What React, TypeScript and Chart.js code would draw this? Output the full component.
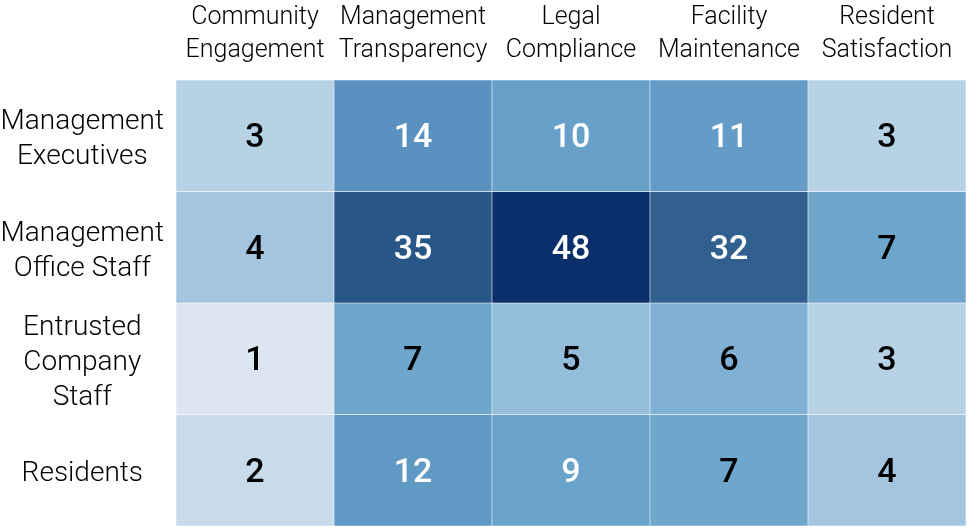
import { useEffect, useRef } from 'react';
import { Chart, registerables } from 'chart.js';

Chart.register(...registerables);

const columnLabels = [
  ['Community', 'Engagement'],
  ['Management', 'Transparency'],
  ['Legal', 'Compliance'],
  ['Facility', 'Maintenance'],
  ['Resident', 'Satisfaction'],
];
const rowLabels = [
  ['Management', 'Executives'],
  ['Management', 'Office Staff'],
  ['Entrusted', 'Company', 'Staff'],
  ['Residents'],
];
const managementExecutives = [3, 14, 10, 11, 3];
const managementOfficeStaff = [4, 35, 48, 32, 7];
const entrustedCompanyStaff = [1, 7, 5, 6, 3];
const residents = [2, 12, 9, 7, 4];
const rowValues = [managementExecutives, managementOfficeStaff, entrustedCompanyStaff, residents];
const rowTickPositions = [0.5, 1.5, 2.5, 3.5];

const colorStopValues = [1, 2, 3, 4, 5, 6, 7, 10, 14, 32, 35, 48];
const colorStopHex = ['#dce6f0', '#c8dbea', '#b7d1e5', '#a4c5df', '#94bcdb', '#80b1d4', '#6ea6cc', '#67a0c9', '#5b91c0', '#31608f', '#285787', '#0a2f6a'];
const whiteTextFrom = 9;

function hexToRgb(h: string) {
  return [parseInt(h.slice(1, 3), 16), parseInt(h.slice(3, 5), 16), parseInt(h.slice(5, 7), 16)];
}
function colorFor(v: number) {
  if (v <= colorStopValues[0]) return colorStopHex[0];
  for (let i = 1; i < colorStopValues.length; i++) {
    if (v <= colorStopValues[i]) {
      const t = (v - colorStopValues[i - 1]) / (colorStopValues[i] - colorStopValues[i - 1]);
      const a = hexToRgb(colorStopHex[i - 1]);
      const b = hexToRgb(colorStopHex[i]);
      const c = a.map((x, k) => Math.round(x + (b[k] - x) * t));
      return `rgb(${c[0]},${c[1]},${c[2]})`;
    }
  }
  return colorStopHex[colorStopHex.length - 1];
}

const valueLabelPlugin = {
  id: 'valueLabels',
  afterDatasetsDraw(chart: any) {
    const ctx = chart.ctx;
    ctx.save();
    ctx.font = '500 34px Roboto';
    ctx.textAlign = 'center';
    ctx.textBaseline = 'middle';
    chart.data.datasets.forEach((ds: any, di: number) => {
      const meta = chart.getDatasetMeta(di);
      meta.data.forEach((el: any, ci: number) => {
        const v = rowValues[di][ci];
        const p = el.getCenterPoint();
        ctx.fillStyle = v >= whiteTextFrom ? '#ffffff' : '#000000';
        ctx.fillText(String(v), p.x, p.y + 3);
      });
    });
    ctx.restore();
  },
};

export default function App() {
  const ref = useRef<HTMLCanvasElement | null>(null);
  useEffect(() => {
    if (!ref.current) return;
    const chart = new Chart(ref.current, {
      type: 'bar',
      data: {
        labels: columnLabels as any,
        datasets: rowValues.map((vals, ri) => ({
          label: rowLabels[ri].join(' '),
          data: vals.map(() => 1),
          backgroundColor: vals.map(colorFor),
          borderColor: 'rgba(255,255,255,0.45)',
          borderWidth: 0.6,
          borderSkipped: false,
          barPercentage: 1,
          categoryPercentage: 1,
          stack: 'grid',
        })),
      },
      options: {
        animation: false,
        responsive: false,
        maintainAspectRatio: false,
        layout: { padding: { left: 0, right: 2, top: 0, bottom: 2 } },
        plugins: { legend: { display: false }, tooltip: { enabled: false } },
        scales: {
          x: {
            type: 'category',
            position: 'top',
            stacked: true,
            grid: { display: false },
            border: { display: false },
            ticks: {
              color: '#000',
              font: { family: 'Roboto', size: 25, weight: 300 as any, lineHeight: 1.32 },
              padding: 5,
              maxRotation: 0,
              autoSkip: false,
            },
            afterFit: (axis: any) => {
              axis.height = 80;
              axis.paddingLeft = 0;
              axis.paddingRight = 0;
            },
          },
          y: {
            type: 'linear',
            stacked: true,
            reverse: true,
            min: 0,
            max: 4,
            grid: { display: false },
            border: { display: false },
            afterBuildTicks: (axis: any) => { axis.ticks = rowTickPositions.map((v) => ({ value: v })); },
            ticks: {
              color: '#000',
              font: { family: 'Roboto', size: 28, weight: 300 as any, lineHeight: 1.25 },
              crossAlign: 'center',
              padding: 4,
              labelOffset: 4,
              callback: (_v: any, i: number) => rowLabels[i],
            },
            afterFit: (axis: any) => {
              axis.width = 176;
              axis.paddingTop = 0;
              axis.paddingBottom = 0;
            },
          },
        },
      },
      plugins: [valueLabelPlugin],
    });
    return () => chart.destroy();
  }, []);
  return (
    <div style={{ position: 'absolute', left: 0, top: 0, width: 968, height: 528 }}>
      <canvas ref={ref} width={968} height={528} style={{ display: 'block', width: 968, height: 528 }} />
    </div>
  );
}
